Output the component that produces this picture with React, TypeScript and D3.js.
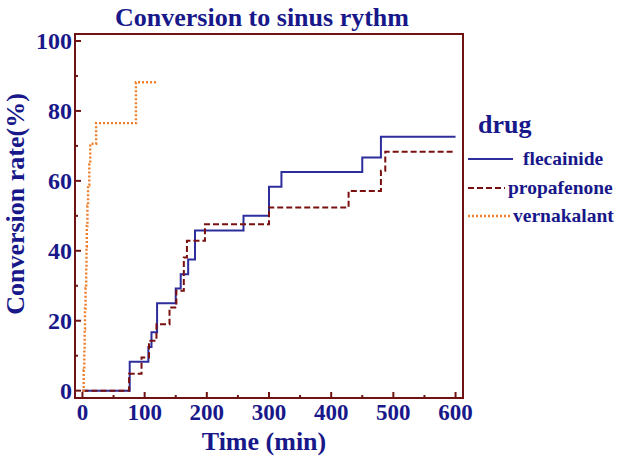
import { useEffect, useRef } from 'react';
import * as d3 from 'd3';

const W = 620;
const H = 465;
// frame of the plot area, in pixels
const [fx0, fx1, fy0, fy1] = [75, 463, 34, 398];

// step points: time (min) at which the rate (%) steps up
const flecTimes = [0, 76, 106, 111, 120, 150, 158, 170, 181, 259, 300, 320, 450, 480, 600];
const flecRates = [0, 8.3, 12.5, 16.7, 25, 29.2, 33.3, 37.5, 45.8, 50, 58.3, 62.5, 66.7, 72.6, 72.6];

const propTimes = [0, 75, 95, 107, 119, 140, 151, 163, 168, 197, 300, 428, 480, 487, 600];
const propRates = [0, 4.8, 9.5, 14.3, 19, 23.8, 28.6, 38.1, 42.9, 47.6, 52.4, 57.1, 62.9, 68.3, 68.3];

const vernTimes = [0, 2, 3, 3.5, 4, 5, 6, 6.5, 7, 8, 9, 11, 12.5, 22, 86, 120];
const vernRates = [0, 5.9, 11.8, 17.6, 23.5, 29.4, 35.3, 41.2, 47.1, 52.9, 58.8, 64.7, 70.6, 76.5, 88.2, 88.2];

const xTicks = [0, 100, 200, 300, 400, 500, 600];
const xMinor = [50, 150, 250, 350, 450, 550];
const yTicks = [0, 20, 40, 60, 80, 100];
const yMinor = [10, 30, 50, 70, 90];

const drugs = ['flecainide', 'propafenone', 'vernakalant'];

const navy = '#18188a';
const frameColor = '#6e1212';
const font = '"Liberation Serif", "DejaVu Serif", serif';

export default function App() {
    const ref = useRef<SVGSVGElement>(null);

    useEffect(() => {
        const svg = d3.select(ref.current);
        svg.selectAll('*').remove();

        const x = d3.scaleLinear().domain([-12, 612]).range([fx0, fx1]);
        const y = d3.scaleLinear().domain([-2.1, 102]).range([fy1, fy0]);

        const series = [
            { name: drugs[0], t: flecTimes, r: flecRates, color: '#2d2d9c', dash: null, width: 2 },
            { name: drugs[1], t: propTimes, r: propRates, color: '#7a0f0f', dash: '6,3', width: 2 },
            { name: drugs[2], t: vernTimes, r: vernRates, color: '#f07f2a', dash: '2,2', width: 2.4 },
        ];

        const line = d3
            .line<[number, number]>()
            .x((d) => x(d[0]))
            .y((d) => y(d[1]))
            .curve(d3.curveStepAfter);

        // curves
        series.forEach((s) => {
            const pts = s.t.map((t, i) => [t, s.r[i]] as [number, number]);
            svg.append('path')
                .attr('d', line(pts))
                .attr('fill', 'none')
                .attr('stroke', s.color)
                .attr('stroke-width', s.width)
                .attr('stroke-dasharray', s.dash);
        });

        // frame
        svg.append('rect')
            .attr('x', fx0)
            .attr('y', fy0)
            .attr('width', fx1 - fx0)
            .attr('height', fy1 - fy0)
            .attr('fill', 'none')
            .attr('stroke', frameColor)
            .attr('stroke-width', 2);

        // inward ticks
        const tick = (x1: number, y1: number, x2: number, y2: number) =>
            svg.append('line').attr('x1', x1).attr('y1', y1).attr('x2', x2).attr('y2', y2)
                .attr('stroke', frameColor).attr('stroke-width', 2);
        yTicks.forEach((v) => tick(fx0, y(v), fx0 + 6, y(v)));
        yMinor.forEach((v) => tick(fx0, y(v), fx0 + 3, y(v)));
        xTicks.forEach((v) => tick(x(v), fy1, x(v), fy1 - 6));
        xMinor.forEach((v) => tick(x(v), fy1, x(v), fy1 - 3));

        const text = (s: string, px: number, py: number, size: number, anchor = 'start') =>
            svg.append('text')
                .attr('x', px)
                .attr('y', py)
                .attr('text-anchor', anchor)
                .attr('font-family', font)
                .attr('font-weight', 'bold')
                .attr('font-size', size)
                .attr('fill', navy)
                .text(s);

        yTicks.forEach((v) => text(String(v), fx0 - 3, y(v) + 8, 24, 'end'));
        xTicks.forEach((v) => text(String(v), x(v), 420, 23, 'middle'));

        text('Conversion to sinus rythm', 262, 26, 26, 'middle');
        text('Time (min)', 264, 450, 26, 'middle');
        text('Conversion rate(%)', 0, 0, 26, 'middle').attr('transform', 'translate(24,204) rotate(-90)');

        // legend
        text('drug', 478, 133, 26);
        const legend = [
            { y: 159, x2: 513, tx: 523 },
            { y: 188, x2: 505, tx: 508 },
            { y: 216, x2: 510, tx: 513 },
        ];
        series.forEach((s, i) => {
            const l = legend[i];
            svg.append('line')
                .attr('x1', 468).attr('x2', l.x2).attr('y1', l.y).attr('y2', l.y)
                .attr('stroke', s.color)
                .attr('stroke-width', s.width)
                .attr('stroke-dasharray', s.dash);
            text(s.name, l.tx, l.y + 6, 19.5);
        });
    }, []);

    return (
        <svg
            ref={ref}
            width={W}
            height={H}
            style={{ position: 'absolute', left: 0, top: 0, background: '#fff' }}
        />
    );
}
